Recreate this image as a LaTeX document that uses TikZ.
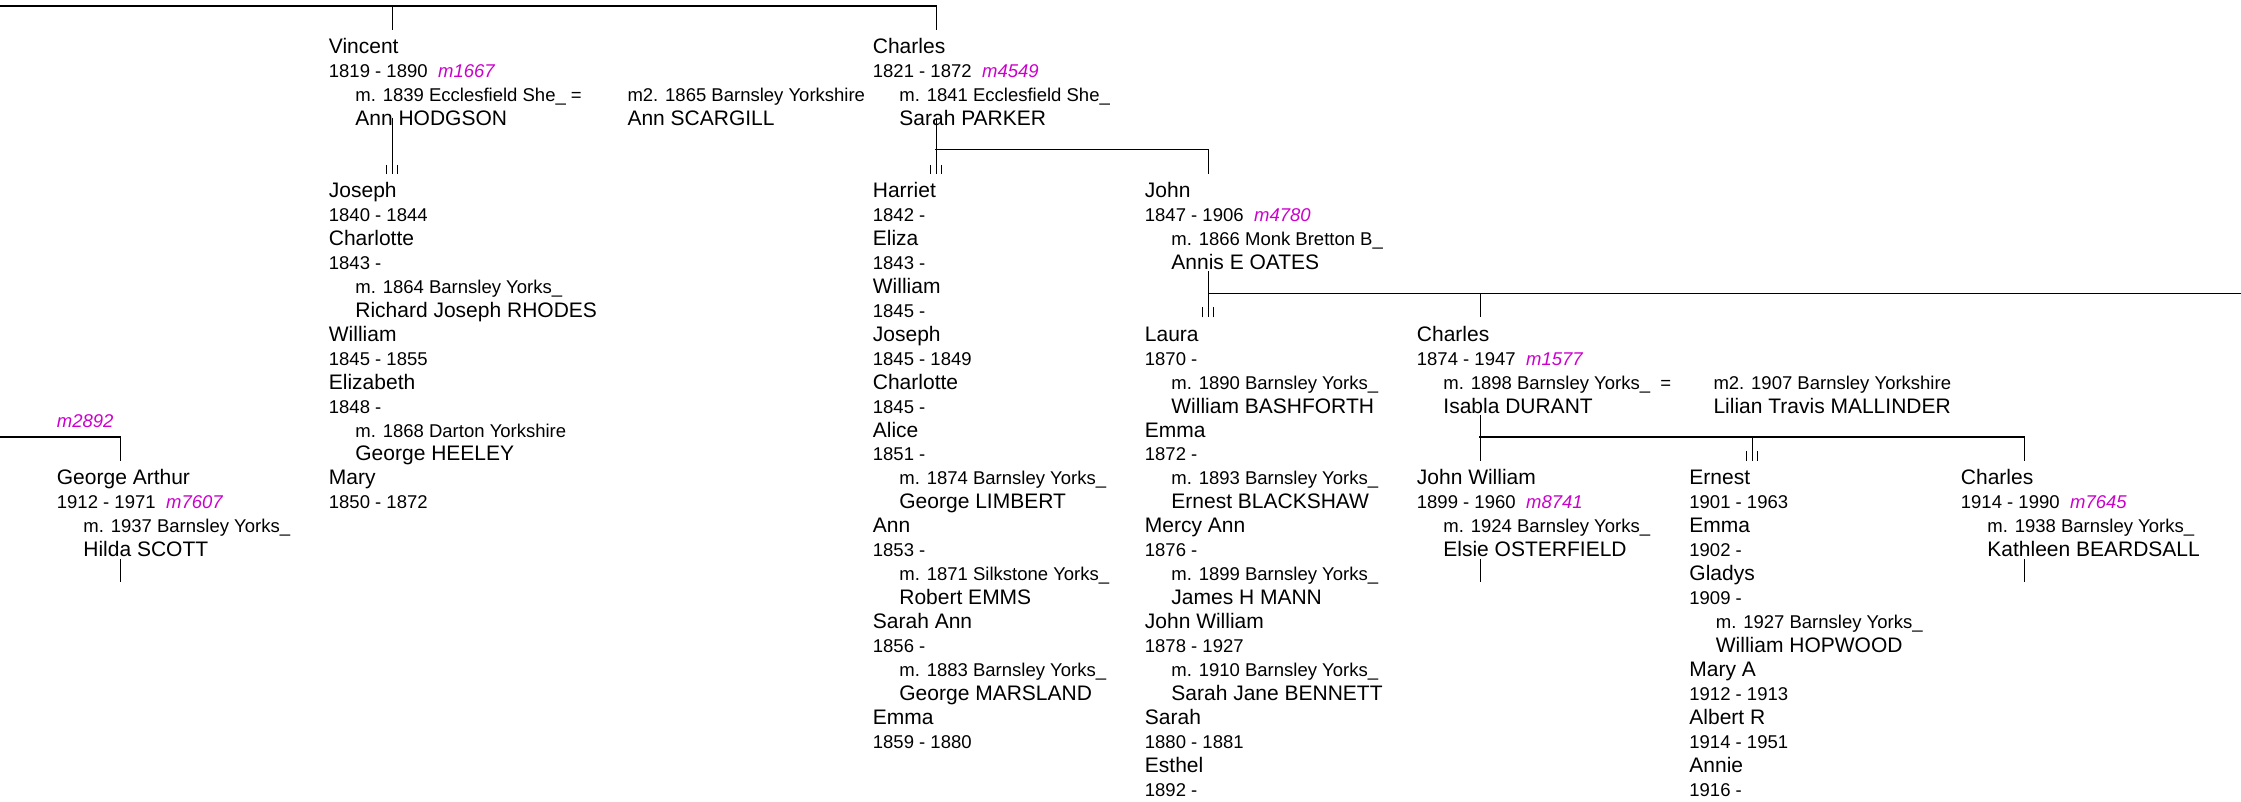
\documentclass[tikz,border=0pt]{standalone}
\usepackage{fontspec}
\setmainfont{Liberation Sans}
\definecolor{mcol}{RGB}{204,0,204}
\newcommand{\mref}[1]{\hspace{10.5pt}\textcolor{mcol}{\itshape #1}}
\tikzset{
  nm/.style={anchor=base west, inner sep=0pt, font=\fontsize{21}{25}\selectfont},
  sm/.style={anchor=base west, inner sep=0pt, font=\fontsize{18.5}{22}\selectfont},
  nmi/.style={nm, xshift=26.5pt},
  smi/.style={sm, xshift=26.5pt},
  mcode/.style={anchor=base west, inner sep=0pt, font=\fontsize{18.5}{22}\selectfont\itshape, text=mcol},
  hl/.style={line width=1.3pt, line cap=rect},
  vl/.style={line width=1pt},
}
\def\cA{56.7}\def\cB{328.7}\def\cC{872.7}\def\cD{1144.7}\def\cE{1416.7}\def\cF{1689.2}\def\cG{1960.7}
\begin{document}
\begin{tikzpicture}[x=1pt,y=-1pt]
\useasboundingbox (0,0) rectangle (2241,802);

% ---------- generation 1: Vincent ----------
\node[nm]  (b0) at (\cB,{54+23.94*0}) {Vincent};
\node[sm]  (b1) at (\cB,{54+23.94*1}) {1819 - 1890\mref{m1667}};
\node[smi] (b2) at (\cB,{54+23.94*2}) {m. 1839 Ecclesfield She\_ =};
\node[nmi] (b3) at (\cB,{54+23.94*3}) {Ann HODGSON};
\node[sm]  (b2b) at (627.3,{54+23.94*2}) {m2. 1865 Barnsley Yorkshire};
\node[nm]  (b3b) at (627.3,{54+23.94*3}) {Ann SCARGILL};
\foreach \k/\st/\tx in {6/nm/Joseph, 7/sm/1840 - 1844, 8/nm/Charlotte, 9/sm/1843 -,
  10/smi/m. 1864 Barnsley Yorks\_, 11/nmi/Richard Joseph RHODES, 12/nm/William,
  13/sm/1845 - 1855, 14/nm/Elizabeth, 15/sm/1848 -, 16/smi/m. 1868 Darton Yorkshire,
  17/nmi/George HEELEY, 18/nm/Mary, 19/sm/1850 - 1872}
  \node[\st] (bc\k) at (\cB,{54+23.94*\k}) {\tx};

% ---------- generation 1: Charles ----------
\node[nm]  (c0) at (\cC,{54+23.94*0}) {Charles};
\node[sm]  (c1) at (\cC,{54+23.94*1}) {1821 - 1872\mref{m4549}};
\node[smi] (c2) at (\cC,{54+23.94*2}) {m. 1841 Ecclesfield She\_};
\node[nmi] (c3) at (\cC,{54+23.94*3}) {Sarah PARKER};
\foreach \k/\st/\tx in {6/nm/Harriet, 7/sm/1842 -, 8/nm/Eliza, 9/sm/1843 -,
  10/nm/William, 11/sm/1845 -, 12/nm/Joseph, 13/sm/1845 - 1849, 14/nm/Charlotte,
  15/sm/1845 -, 16/nm/Alice, 17/sm/1851 -, 18/smi/m. 1874 Barnsley Yorks\_,
  19/nmi/George LIMBERT, 20/nm/Ann, 21/sm/1853 -, 22/smi/m. 1871 Silkstone Yorks\_,
  23/nmi/Robert EMMS, 24/nm/Sarah Ann, 25/sm/1856 -, 26/smi/m. 1883 Barnsley Yorks\_,
  27/nmi/George MARSLAND, 28/nm/Emma, 29/sm/1859 - 1880}
  \node[\st] (cc\k) at (\cC,{54+23.94*\k}) {\tx};

% ---------- generation 2: John ----------
\node[nm]  (d0) at (\cD,{54+23.94*6}) {John};
\node[sm]  (d1) at (\cD,{54+23.94*7}) {1847 - 1906\mref{m4780}};
\node[smi] (d2) at (\cD,{54+23.94*8}) {m. 1866 Monk Bretton B\_};
\node[nmi] (d3) at (\cD,{54+23.94*9}) {Annis E OATES};
\foreach \k/\st/\tx in {12/nm/Laura, 13/sm/1870 -, 14/smi/m. 1890 Barnsley Yorks\_,
  15/nmi/William BASHFORTH, 16/nm/Emma, 17/sm/1872 -, 18/smi/m. 1893 Barnsley Yorks\_,
  19/nmi/Ernest BLACKSHAW, 20/nm/Mercy Ann, 21/sm/1876 -, 22/smi/m. 1899 Barnsley Yorks\_,
  23/nmi/James H MANN, 24/nm/John William, 25/sm/1878 - 1927,
  26/smi/m. 1910 Barnsley Yorks\_, 27/nmi/Sarah Jane BENNETT, 28/nm/Sarah,
  29/sm/1880 - 1881, 30/nm/Esthel, 31/sm/1892 -}
  \node[\st] (dc\k) at (\cD,{54+23.94*\k}) {\tx};

% ---------- generation 3: Charles ----------
\node[nm]  (e0) at (\cE,{54+23.94*12}) {Charles};
\node[sm]  (e1) at (\cE,{54+23.94*13}) {1874 - 1947\mref{m1577}};
\node[smi] (e2) at (\cE,{54+23.94*14}) {m. 1898 Barnsley Yorks\_~~=};
\node[nmi] (e3) at (\cE,{54+23.94*15}) {Isabla DURANT};
\node[sm]  (e2b) at (1713.3,{54+23.94*14}) {m2. 1907 Barnsley Yorkshire};
\node[nm]  (e3b) at (1713.3,{54+23.94*15}) {Lilian Travis MALLINDER};

% ---------- generation 4 ----------
\node[nm]  (f0) at (\cE,{54+23.94*18}) {John William};
\node[sm]  (f1) at (\cE,{54+23.94*19}) {1899 - 1960\mref{m8741}};
\node[smi] (f2) at (\cE,{54+23.94*20}) {m. 1924 Barnsley Yorks\_};
\node[nmi] (f3) at (\cE,{54+23.94*21}) {Elsie OSTERFIELD};

\foreach \k/\st/\tx in {18/nm/Ernest, 19/sm/1901 - 1963, 20/nm/Emma, 21/sm/1902 -,
  22/nm/Gladys, 23/sm/1909 -, 24/smi/m. 1927 Barnsley Yorks\_, 25/nmi/William HOPWOOD,
  26/nm/Mary A, 27/sm/1912 - 1913, 28/nm/Albert R, 29/sm/1914 - 1951, 30/nm/Annie,
  31/sm/1916 -}
  \node[\st] (gc\k) at (\cF,{54+23.94*\k}) {\tx};

\node[nm]  (h0) at (\cG,{54+23.94*18}) {Charles};
\node[sm]  (h1) at (\cG,{54+23.94*19}) {1914 - 1990\mref{m7645}};
\node[smi] (h2) at (\cG,{54+23.94*20}) {m. 1938 Barnsley Yorks\_};
\node[nmi] (h3) at (\cG,{54+23.94*21}) {Kathleen BEARDSALL};

% ---------- left: George Arthur ----------
\node[mcode] (am) at (\cA,427.3) {m2892};
\node[nm]  (a0) at (\cA,{54+23.94*18}) {George Arthur};
\node[sm]  (a1) at (\cA,{54+23.94*19}) {1912 - 1971\mref{m7607}};
\node[smi] (a2) at (\cA,{54+23.94*20}) {m. 1937 Barnsley Yorks\_};
\node[nmi] (a3) at (\cA,{54+23.94*21}) {Hilda SCOTT};

% ---------- connector coordinates ----------
\coordinate (top0) at (0,6);
\coordinate (topB) at (392,6);   \coordinate (dropB) at (392,30);
\coordinate (topC) at (936,6);   \coordinate (dropC) at (936,30);
\coordinate (spB) at (392,117.8); \coordinate (kidB) at (392,173.6);
\coordinate (spC) at (936,117.8); \coordinate (kidC) at (936,173.6);
\coordinate (hC) at (936,149.6); \coordinate (hD) at (1208.2,149.6); \coordinate (kidD) at (1208.2,173.6);
\coordinate (spD) at (1208.2,271.5); \coordinate (kidDD) at (1208.2,317.3);
\coordinate (hDD) at (1208.2,293.3); \coordinate (hEnd) at (2241,293.3);
\coordinate (hE) at (1480,293.3); \coordinate (kidE) at (1480,317.3);
\coordinate (spE) at (1480,415); \coordinate (kidEE) at (1480,460.9);
\coordinate (hEE) at (1480,436.9); \coordinate (hF) at (1752.4,436.9); \coordinate (kidF) at (1752.4,460.9);
\coordinate (hG) at (2024,436.9); \coordinate (kidG) at (2024,460.9);
\coordinate (hA0) at (0,436.9); \coordinate (hA) at (120,436.9); \coordinate (kidA) at (120,460.9);
\coordinate (spA) at (120,559); \coordinate (endA) at (120,581.7);
\coordinate (spF) at (1480,559); \coordinate (endF) at (1480,581.7);
\coordinate (spH) at (2024,559); \coordinate (endH) at (2024,581.7);

% ---------- connectors ----------
\draw[hl] (top0) -- (topC);
\draw[vl] (topB) -- (dropB);
\draw[vl] (topC) -- (dropC);

\draw[vl] (spB) -- (kidB);
\draw[vl] ([xshift=-5.5pt]kidB) -- ++(0,-9);
\draw[vl] ([xshift=5.5pt]kidB) -- ++(0,-9);

\draw[vl] (spC) -- (kidC);
\draw[hl] (hC) -- (hD);
\draw[vl] (hD) -- (kidD);
\draw[vl] ([xshift=-5.5pt]kidC) -- ++(0,-9);
\draw[vl] ([xshift=5.5pt]kidC) -- ++(0,-9);

\draw[vl] (spD) -- (kidDD);
\draw[hl] (hDD) -- (hEnd);
\draw[vl] (hE) -- (kidE);
\draw[vl] ([xshift=-5.5pt]kidDD) -- ++(0,-10);
\draw[vl] ([xshift=5.5pt]kidDD) -- ++(0,-10);

\draw[vl] (spE) -- (kidEE);
\draw[hl] (hEE) -- (hG);
\draw[vl] (hF) -- (kidF);
\draw[vl] (hG) -- (kidG);
\draw[vl] ([xshift=-5.5pt]kidF) -- ++(0,-10);
\draw[vl] ([xshift=5.5pt]kidF) -- ++(0,-10);

\draw[hl] (hA0) -- (hA);
\draw[vl] (hA) -- (kidA);
\draw[vl] (spA) -- (endA);
\draw[vl] (spF) -- (endF);
\draw[vl] (spH) -- (endH);
\end{tikzpicture}
\end{document}
